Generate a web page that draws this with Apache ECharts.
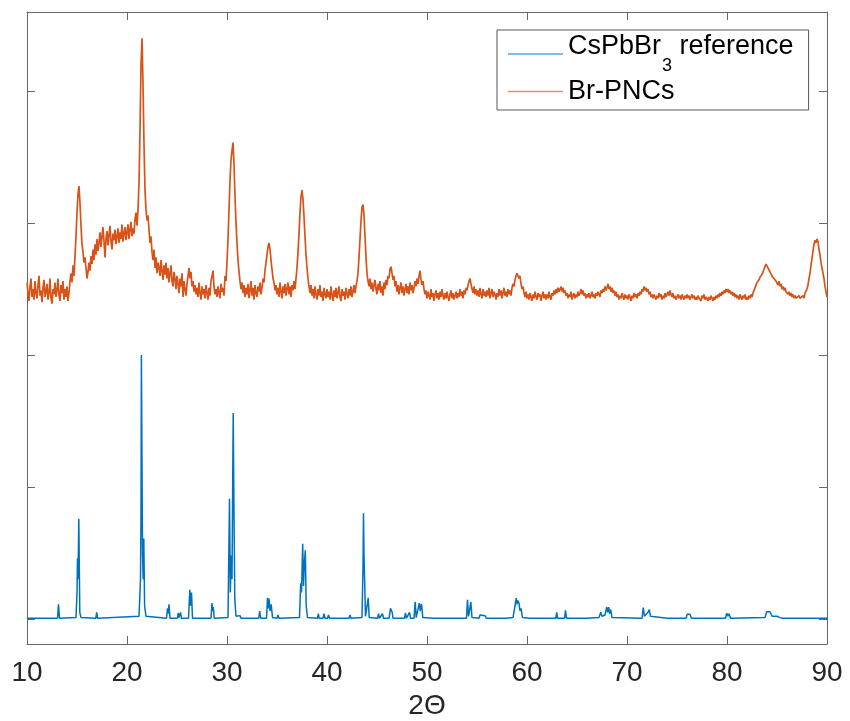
<!DOCTYPE html>
<html>
<head>
<meta charset="utf-8">
<title>XRD</title>
<script src="https://cdn.jsdelivr.net/npm/echarts@6.0.0/dist/echarts.min.js"></script>
<style>
  html, body { margin: 0; padding: 0; background: #fff; }
  #xrd-chart { width: 850px; height: 721px; }
</style>
</head>
<body>
<div id="xrd-chart"></div>
<script>
// x ticks (2 theta) and y tick positions (no labels shown)
var xTicks = [10, 20, 30, 40, 50, 60, 70, 80, 90];
var yTicks = [0, 1, 2, 3, 4];

// Br-PNCs, read every 0.1 deg from 10 to 90 (one row per degree)
var orangeStart = 10;
var orangeStep = 0.1;
var orangeY = [
  2.55, 2.47, 2.41, 2.52, 2.58, 2.44, 2.50, 2.42, 2.56, 2.47,
  2.43, 2.53, 2.60, 2.45, 2.49, 2.40, 2.51, 2.57, 2.44, 2.48,
  2.54, 2.42, 2.47, 2.58, 2.43, 2.39, 2.50, 2.46, 2.55, 2.44,
  2.49, 2.58, 2.45, 2.41, 2.53, 2.47, 2.56, 2.42, 2.50, 2.44,
  2.52, 2.41, 2.47, 2.56, 2.62, 2.55, 2.68, 2.60, 2.75, 2.90,
  3.08, 3.22, 3.28, 3.15, 2.98, 2.84, 2.78, 2.70, 2.74, 2.66,
  2.58, 2.63, 2.70, 2.64, 2.75, 2.69, 2.80, 2.72, 2.84, 2.76,
  2.88, 2.79, 2.85, 2.93, 2.82, 2.90, 2.97, 2.86, 2.74, 2.88,
  2.94, 2.83, 2.91, 2.98, 2.86, 2.80, 2.92, 2.87, 2.95, 2.84,
  2.90, 2.96, 2.85, 2.93, 2.88, 2.99, 2.86, 2.92, 2.97, 2.87,
  2.93, 2.99, 2.88, 2.95, 3.01, 2.90, 2.96, 2.92, 3.03, 3.08,
  2.98, 3.10, 3.30, 3.70, 4.20, 4.40, 4.05, 3.60, 3.25, 3.10,
  3.02, 3.06, 2.95, 2.85, 2.90, 2.78, 2.72, 2.80, 2.66, 2.74,
  2.62, 2.70, 2.66, 2.60, 2.72, 2.64, 2.57, 2.68, 2.61, 2.70,
  2.58, 2.66, 2.55, 2.62, 2.68, 2.56, 2.52, 2.63, 2.58, 2.50,
  2.60, 2.54, 2.47, 2.58, 2.52, 2.62, 2.44, 2.56, 2.50, 2.45,
  2.54, 2.60, 2.66, 2.58, 2.63, 2.52, 2.56, 2.48, 2.53, 2.46,
  2.51, 2.44, 2.55, 2.47, 2.42, 2.52, 2.46, 2.50, 2.43, 2.53,
  2.47, 2.42, 2.51, 2.45, 2.56, 2.60, 2.64, 2.52, 2.46, 2.50,
  2.44, 2.52, 2.47, 2.43, 2.54, 2.48, 2.51, 2.45, 2.60, 2.56,
  2.70, 2.88, 3.10, 3.32, 3.48, 3.55, 3.61, 3.45, 3.20, 3.00,
  2.85, 2.72, 2.63, 2.56, 2.50, 2.55, 2.47, 2.53, 2.44, 2.51,
  2.46, 2.54, 2.43, 2.49, 2.56, 2.45, 2.51, 2.42, 2.53, 2.47,
  2.44, 2.52, 2.48, 2.55, 2.46, 2.51, 2.58, 2.55, 2.64, 2.70,
  2.76, 2.82, 2.85, 2.80, 2.72, 2.65, 2.58, 2.55, 2.49, 2.53,
  2.46, 2.51, 2.44, 2.55, 2.48, 2.43, 2.52, 2.47, 2.54, 2.45,
  2.50, 2.55, 2.46, 2.52, 2.44, 2.53, 2.49, 2.56, 2.50, 2.58,
  2.66, 2.78, 2.92, 3.08, 3.20, 3.25, 3.18, 3.05, 2.90, 2.76,
  2.66, 2.58, 2.52, 2.47, 2.53, 2.45, 2.50, 2.43, 2.52, 2.46,
  2.42, 2.50, 2.45, 2.53, 2.44, 2.48, 2.41, 2.51, 2.46, 2.43,
  2.50, 2.44, 2.48, 2.42, 2.52, 2.45, 2.41, 2.49, 2.44, 2.51,
  2.43, 2.47, 2.52, 2.44, 2.41, 2.50, 2.45, 2.48, 2.42, 2.51,
  2.46, 2.43, 2.50, 2.45, 2.52, 2.44, 2.48, 2.53, 2.47, 2.52,
  2.56, 2.62, 2.74, 2.88, 3.02, 3.12, 3.14, 3.06, 2.90, 2.74,
  2.62, 2.56, 2.52, 2.58, 2.50, 2.55, 2.48, 2.53, 2.57, 2.50,
  2.46, 2.54, 2.49, 2.56, 2.47, 2.52, 2.45, 2.55, 2.50, 2.57,
  2.53, 2.60, 2.58, 2.65, 2.67, 2.62, 2.57, 2.60, 2.52, 2.56,
  2.48, 2.53, 2.46, 2.51, 2.55, 2.47, 2.52, 2.45, 2.50, 2.54,
  2.47, 2.52, 2.46, 2.55, 2.49, 2.53, 2.47, 2.51, 2.56, 2.52,
  2.58, 2.54, 2.60, 2.64, 2.57, 2.53, 2.56, 2.50, 2.46, 2.49,
  2.43, 2.48, 2.45, 2.42, 2.50, 2.44, 2.47, 2.41, 2.46, 2.49,
  2.43, 2.47, 2.42, 2.48, 2.44, 2.50, 2.45, 2.42, 2.47, 2.43,
  2.48, 2.44, 2.41, 2.46, 2.49, 2.43, 2.47, 2.42, 2.45, 2.48,
  2.43, 2.47, 2.44, 2.50, 2.45, 2.48, 2.43, 2.49, 2.46, 2.51,
  2.49, 2.53, 2.56, 2.58, 2.54, 2.50, 2.47, 2.52, 2.46, 2.50,
  2.45, 2.49, 2.44, 2.51, 2.46, 2.43, 2.50, 2.45, 2.48, 2.44,
  2.49, 2.45, 2.51, 2.43, 2.47, 2.50, 2.44, 2.48, 2.46, 2.42,
  2.47, 2.44, 2.50, 2.45, 2.49, 2.43, 2.47, 2.51, 2.45, 2.48,
  2.44, 2.50, 2.46, 2.49, 2.45, 2.51, 2.54, 2.52, 2.57, 2.60,
  2.62, 2.61, 2.58, 2.60, 2.54, 2.50, 2.52, 2.47, 2.44, 2.48,
  2.43, 2.46, 2.42, 2.47, 2.44, 2.41, 2.46, 2.43, 2.48, 2.44,
  2.42, 2.47, 2.44, 2.46, 2.41, 2.45, 2.48, 2.43, 2.46, 2.42,
  2.46, 2.43, 2.48, 2.44, 2.42, 2.47, 2.45, 2.49, 2.46, 2.50,
  2.47, 2.51, 2.48, 2.50, 2.52, 2.48, 2.51, 2.47, 2.49, 2.45,
  2.47, 2.43, 2.46, 2.44, 2.48, 2.42, 2.45, 2.47, 2.43, 2.46,
  2.44, 2.48, 2.45, 2.47, 2.50, 2.46, 2.49, 2.45, 2.47, 2.43,
  2.46, 2.44, 2.47, 2.43, 2.45, 2.48, 2.44, 2.46, 2.43, 2.47,
  2.45, 2.48, 2.46, 2.44, 2.49, 2.47, 2.50, 2.48, 2.52, 2.49,
  2.51, 2.54, 2.50, 2.52, 2.48, 2.51, 2.47, 2.49, 2.45, 2.48,
  2.44, 2.46, 2.42, 2.45, 2.43, 2.47, 2.44, 2.42, 2.46, 2.43,
  2.45, 2.42, 2.46, 2.44, 2.41, 2.45, 2.43, 2.47, 2.44, 2.46,
  2.43, 2.47, 2.45, 2.48, 2.46, 2.50, 2.48, 2.52, 2.49, 2.51,
  2.48, 2.50, 2.46, 2.48, 2.44, 2.46, 2.43, 2.46, 2.44, 2.42,
  2.45, 2.43, 2.47, 2.44, 2.46, 2.42, 2.45, 2.43, 2.47, 2.44,
  2.46, 2.48, 2.45, 2.49, 2.46, 2.44, 2.47, 2.43, 2.45, 2.42,
  2.44, 2.46, 2.43, 2.45, 2.42, 2.46, 2.44, 2.42, 2.45, 2.43,
  2.46, 2.43, 2.45, 2.42, 2.44, 2.46, 2.43, 2.45, 2.42, 2.44,
  2.42, 2.45, 2.43, 2.44, 2.41, 2.45, 2.43, 2.46, 2.42, 2.44,
  2.43, 2.41, 2.44, 2.42, 2.45, 2.43, 2.41, 2.44, 2.42, 2.45,
  2.43, 2.46, 2.44, 2.47, 2.45, 2.48, 2.46, 2.49, 2.47, 2.50,
  2.48, 2.50, 2.47, 2.49, 2.46, 2.48, 2.45, 2.47, 2.44, 2.46,
  2.43, 2.45, 2.42, 2.46, 2.44, 2.42, 2.45, 2.43, 2.46, 2.42,
  2.44, 2.42, 2.45, 2.43, 2.46, 2.44, 2.47, 2.49, 2.51, 2.53,
  2.55, 2.54, 2.57, 2.59, 2.58, 2.61, 2.63, 2.65, 2.67, 2.69,
  2.68, 2.66, 2.67, 2.63, 2.64, 2.60, 2.61, 2.58, 2.59, 2.56,
  2.55, 2.53, 2.56, 2.52, 2.54, 2.50, 2.52, 2.49, 2.51, 2.48,
  2.49, 2.46, 2.48, 2.45, 2.47, 2.44, 2.46, 2.43, 2.45, 2.43,
  2.44, 2.42, 2.45, 2.43, 2.44, 2.42, 2.45, 2.43, 2.47, 2.46,
  2.50, 2.53, 2.58, 2.62, 2.68, 2.73, 2.79, 2.84, 2.87, 2.85,
  2.88, 2.86, 2.80, 2.76, 2.70, 2.66, 2.62, 2.58, 2.52, 2.48,
  2.44
];

// CsPbBr3 reference pattern, [2theta, intensity]
var bluePoints = [
  [10, 0.005], [13.05, 0.005], [13.15, 0.11], [13.25, 0.005],
  [14.9, 0.01], [15.0, 0.2], [15.05, 0.46], [15.1, 0.3], [15.18, 0.76], [15.28, 0.05], [15.4, 0.01],
  [16.88, 0.005], [16.97, 0.05], [17.06, 0.005],
  [21.2, 0.02], [21.35, 0.3], [21.4, 0.8], [21.44, 2.0], [21.5, 1.2], [21.55, 0.5], [21.62, 0.3], [21.68, 0.61], [21.76, 0.1], [21.9, 0.02], [22.1, 0.005],
  [23.95, 0.005], [24.05, 0.08], [24.12, 0.04], [24.2, 0.11], [24.3, 0.005],
  [25.05, 0.005], [25.12, 0.045], [25.2, 0.01], [25.35, 0.05], [25.45, 0.005],
  [26.15, 0.005], [26.28, 0.22], [26.36, 0.1], [26.45, 0.2], [26.55, 0.005],
  [28.4, 0.005], [28.5, 0.12], [28.57, 0.06], [28.63, 0.09], [28.72, 0.005],
  [30.1, 0.01], [30.25, 0.91], [30.33, 0.2], [30.42, 0.48], [30.5, 0.3], [30.62, 1.56], [30.7, 0.8], [30.78, 0.15], [30.9, 0.02], [31.1, 0.005], [31.3, 0.025], [31.4, 0.005],
  [33.17, 0.005], [33.27, 0.06], [33.37, 0.005],
  [33.95, 0.005], [34.05, 0.16], [34.12, 0.08], [34.2, 0.155], [34.3, 0.06], [34.42, 0.11], [34.55, 0.01], [35.0, 0.005], [35.1, 0.03], [35.2, 0.005],
  [37.25, 0.01], [37.37, 0.27], [37.45, 0.2], [37.57, 0.57], [37.65, 0.25], [37.72, 0.4], [37.83, 0.52], [37.92, 0.1], [38.05, 0.01],
  [39.05, 0.005], [39.13, 0.04], [39.22, 0.005], [39.6, 0.005], [39.7, 0.04], [39.8, 0.005], [40.05, 0.005], [40.15, 0.03], [40.25, 0.005],
  [41.4, 0.005], [41.47, 0.02], [41.55, 0.005], [42.2, 0.005], [42.3, 0.03], [42.4, 0.005],
  [43.5, 0.01], [43.6, 0.4], [43.65, 0.8], [43.7, 0.48], [43.76, 0.3], [43.85, 0.02], [44.02, 0.01], [44.12, 0.16], [44.22, 0.01],
  [45.05, 0.005], [45.15, 0.04], [45.25, 0.005], [45.45, 0.005], [45.55, 0.04], [45.65, 0.005],
  [46.2, 0.005], [46.35, 0.08], [46.45, 0.07], [46.52, 0.05], [46.6, 0.005],
  [47.75, 0.005], [47.85, 0.045], [47.95, 0.005], [48.15, 0.005], [48.25, 0.05], [48.35, 0.005],
  [48.7, 0.005], [48.82, 0.13], [48.92, 0.01], [49.1, 0.01], [49.23, 0.12], [49.32, 0.06], [49.45, 0.115], [49.58, 0.01],
  [50.6, 0.005], [50.67, 0.012], [50.75, 0.005], [51.4, 0.005], [51.5, 0.015], [51.6, 0.005], [52.4, 0.005], [52.5, 0.01], [52.6, 0.005],
  [53.95, 0.005], [54.05, 0.145], [54.15, 0.02], [54.25, 0.06], [54.38, 0.13], [54.5, 0.01],
  [55.2, 0.005], [55.3, 0.03], [55.45, 0.02], [55.8, 0.025], [55.95, 0.005],
  [57.9, 0.005], [57.97, 0.02], [58.05, 0.005],
  [58.6, 0.01], [58.8, 0.1], [58.92, 0.157], [59.0, 0.11], [59.08, 0.14], [59.2, 0.12], [59.3, 0.06], [59.4, 0.08], [59.55, 0.01],
  [60.25, 0.005], [60.35, 0.02], [60.45, 0.005], [60.9, 0.005], [61.0, 0.02], [61.1, 0.005], [61.7, 0.005], [61.8, 0.015], [61.9, 0.005],
  [62.88, 0.005], [62.97, 0.05], [63.06, 0.005], [63.75, 0.005], [63.85, 0.065], [63.95, 0.005],
  [64.95, 0.005], [65.05, 0.015], [65.15, 0.005], [65.9, 0.005], [66.0, 0.02], [66.1, 0.005],
  [67.2, 0.01], [67.37, 0.05], [67.5, 0.02], [67.8, 0.03], [67.97, 0.09], [68.07, 0.05], [68.17, 0.09], [68.27, 0.04], [68.37, 0.07], [68.5, 0.01],
  [71.5, 0.005], [71.63, 0.085], [71.75, 0.02], [71.95, 0.03], [72.1, 0.05], [72.23, 0.07], [72.35, 0.02], [72.5, 0.005],
  [74.0, 0.005], [74.13, 0.02], [74.3, 0.005],
  [75.9, 0.005], [76.03, 0.035], [76.15, 0.02], [76.3, 0.035], [76.45, 0.005],
  [79.85, 0.005], [79.97, 0.043], [80.1, 0.02], [80.2, 0.04], [80.35, 0.005],
  [83.8, 0.01], [83.97, 0.055], [84.15, 0.04], [84.3, 0.055], [84.5, 0.02], [85.0, 0.02], [85.13, 0.035], [85.3, 0.01], [85.6, 0.005],
  [90, 0.005]
];

var blueName = 'CsPbBr3 reference';
var orangeName = 'Br-PNCs';

var orangePoints = orangeY.map(function (y, i) {
  return [Math.round((orangeStart + i * orangeStep) * 10) / 10, y];
});

var axisColor = '#666';
var textColor = '#262626';
var fontFam = '"Liberation Sans", Helvetica, Arial, sans-serif';

var myChart = echarts.init(document.getElementById('xrd-chart'), null, { renderer: 'canvas' });

var boxX = function (pos, showLabel) {
  return {
    type: 'value',
    position: pos,
    min: xTicks[0],
    max: xTicks[xTicks.length - 1],
    interval: 10,
    axisLine: { show: true, onZero: false, lineStyle: { color: axisColor, width: 1 } },
    axisTick: { show: true, inside: true, length: 8, lineStyle: { color: axisColor } },
    axisLabel: {
      show: showLabel,
      margin: 15,
      fontSize: 28,
      fontFamily: fontFam,
      color: textColor
    },
    splitLine: { show: false },
    name: showLabel ? '2\u0398' : '',
    nameLocation: 'middle',
    nameGap: 43,
    nameTextStyle: { fontSize: 28, fontFamily: fontFam, color: textColor }
  };
};

var boxY = function (pos) {
  return {
    type: 'value',
    position: pos,
    min: -0.19,
    max: 4.6,
    axisLine: { show: true, onZero: false, lineStyle: { color: axisColor, width: 1 } },
    axisTick: { show: true, inside: true, length: 8, customValues: yTicks, lineStyle: { color: axisColor } },
    axisLabel: { show: false, customValues: yTicks },
    splitLine: { show: false }
  };
};

var option = {
  animation: false,
  backgroundColor: '#fff',
  grid: { left: 27, right: 23, top: 12, bottom: 77, containLabel: false, outerBoundsMode: 'none' },
  legend: {
    orient: 'vertical',
    left: 497,
    top: 30,
    padding: [3, 15, 5, 11],
    itemGap: 3,
    itemWidth: 55,
    itemHeight: 1.5,
    icon: 'rect',
    itemStyle: { opacity: 0.65 },
    backgroundColor: '#fff',
    borderColor: '#555',
    borderWidth: 1,
    borderRadius: 0,
    data: [blueName, orangeName],
    formatter: function (name) {
      if (name === blueName) {
        return '{a|CsPbBr}{s|3}{a| reference}';
      }
      return '{b|' + name + '}';
    },
    textStyle: {
      color: '#000',
      fontFamily: fontFam,
      rich: {
        a: { fontSize: 27, lineHeight: 27, padding: [0, 0, 15, 0], fontFamily: fontFam, color: '#000' },
        s: { fontSize: 18, lineHeight: 18, padding: [24, 0, 0, 1], fontFamily: fontFam, color: '#000' },
        b: { fontSize: 27, lineHeight: 27, fontFamily: fontFam, color: '#000' }
      }
    }
  },
  xAxis: [boxX('bottom', true), boxX('top', false)],
  yAxis: [boxY('left'), boxY('right')],
  series: [
    {
      name: blueName,
      type: 'line',
      data: bluePoints,
      showSymbol: false,
      symbol: 'none',
      lineStyle: { color: '#0072BD', width: 1.5 },
      itemStyle: { color: '#0072BD' },
      z: 3
    },
    {
      name: orangeName,
      type: 'line',
      data: orangePoints,
      showSymbol: false,
      symbol: 'none',
      lineStyle: { color: '#D95319', width: 1.7 },
      itemStyle: { color: '#D95319' },
      z: 2
    }
  ]
};
myChart.setOption(option);
</script>
</body>
</html>
